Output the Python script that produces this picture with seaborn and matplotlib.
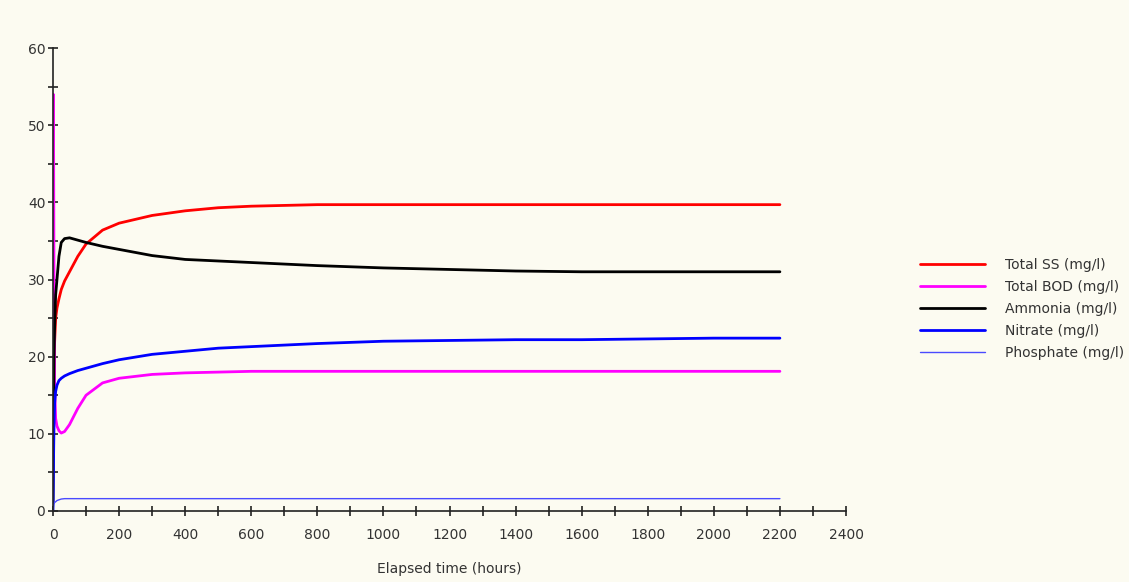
import numpy as np
import pandas as pd
import matplotlib.pyplot as plt
import seaborn as sns
from matplotlib.ticker import MultipleLocator

# -----------------------------
# Data (hours, mg/l)
# -----------------------------
hours = [0, 1, 2, 3, 5, 8, 12, 18, 25, 35, 50, 75, 100, 150, 200, 300, 400,
         500, 600, 800, 1000, 1200, 1400, 1600, 1800, 2000, 2200]

total_ss = [24, 7, 12, 18, 22, 25, 26.3, 27.5, 28.7, 29.8, 31, 33, 34.6, 36.4, 37.3,
            38.3, 38.9, 39.3, 39.5, 39.7, 39.7, 39.7, 39.7, 39.7, 39.7, 39.7, 39.7]
total_bod = [47, 54, 45, 30, 16, 12, 11, 10.4, 10.1, 10.3, 11.2, 13.3, 15, 16.6, 17.2,
             17.7, 17.9, 18, 18.1, 18.1, 18.1, 18.1, 18.1, 18.1, 18.1, 18.1, 18.1]
ammonia = [1, 8, 14, 20, 24, 28, 30, 33, 34.8, 35.3, 35.4, 35.1, 34.8, 34.3, 33.9,
           33.1, 32.6, 32.4, 32.2, 31.8, 31.5, 31.3, 31.1, 31.0, 31.0, 31.0, 31.0]
nitrate = [0, 4, 8, 11, 14, 15.5, 16.3, 16.9, 17.2, 17.5, 17.8, 18.2, 18.5, 19.1, 19.6,
           20.3, 20.7, 21.1, 21.3, 21.7, 22.0, 22.1, 22.2, 22.2, 22.3, 22.4, 22.4]
phosphate = [0, 0.5, 0.8, 1.0, 1.1, 1.2, 1.35, 1.45, 1.55, 1.6, 1.6, 1.6, 1.6, 1.6, 1.6,
             1.6, 1.6, 1.6, 1.6, 1.6, 1.6, 1.6, 1.6, 1.6, 1.6, 1.6, 1.6]

series_names = ["Total SS (mg/l)", "Total BOD (mg/l)", "Ammonia (mg/l)",
                "Nitrate (mg/l)", "Phosphate (mg/l)"]
series_values = [total_ss, total_bod, ammonia, nitrate, phosphate]
series_colors = ["#ff0000", "#ff00ff", "#000000", "#0000ff", "#4a4aff"]
series_widths = [2.0, 2.0, 2.0, 2.0, 1.0]

df = pd.DataFrame({"hours": hours})
for name, vals in zip(series_names, series_values):
    df[name] = vals

# -----------------------------
# Style
# -----------------------------
bg = "#fcfbf1"
sns.set_style("ticks")
plt.rcParams['font.family'] = ['DejaVu Sans']

fig = plt.figure(figsize=(11.29, 5.82), dpi=100, facecolor=bg)
ax = fig.add_axes([53 / 1129, 1 - 511 / 582, (846 - 53) / 1129, (511 - 48) / 582])
ax.set_facecolor(bg)

for name, color, lw in zip(series_names, series_colors, series_widths):
    sns.lineplot(data=df, x="hours", y=name, color=color, linewidth=lw,
                 label=name, ax=ax)

ax.set_xlim(0, 2400)
ax.set_ylim(0, 60)
ax.xaxis.set_major_locator(MultipleLocator(200))
ax.xaxis.set_minor_locator(MultipleLocator(100))
ax.yaxis.set_major_locator(MultipleLocator(10))
ax.yaxis.set_minor_locator(MultipleLocator(5))
ax.tick_params(which="both", direction="inout", length=7, width=1.2,
               colors="#222222", labelcolor="#333333", labelsize=10)
ax.tick_params(axis="x", pad=9)
ax.tick_params(axis="y", pad=2)
for side in ["top", "right"]:
    ax.spines[side].set_visible(False)
for side in ["left", "bottom"]:
    ax.spines[side].set_color("#222222")
    ax.spines[side].set_linewidth(1.2)

ax.set_xlabel("Elapsed time (hours)", fontsize=10, color="#333333", labelpad=14)
ax.set_ylabel("")

ax.legend(loc="center left", bbox_to_anchor=(920 / 1129, 1 - 309 / 582),
          bbox_transform=fig.transFigure, frameon=False, borderpad=0,
          borderaxespad=0, fontsize=10, handlelength=4.7, handletextpad=1.4,
          labelspacing=0.58, labelcolor="#333333")

fig.savefig("out.png", dpi=100, facecolor=bg)
